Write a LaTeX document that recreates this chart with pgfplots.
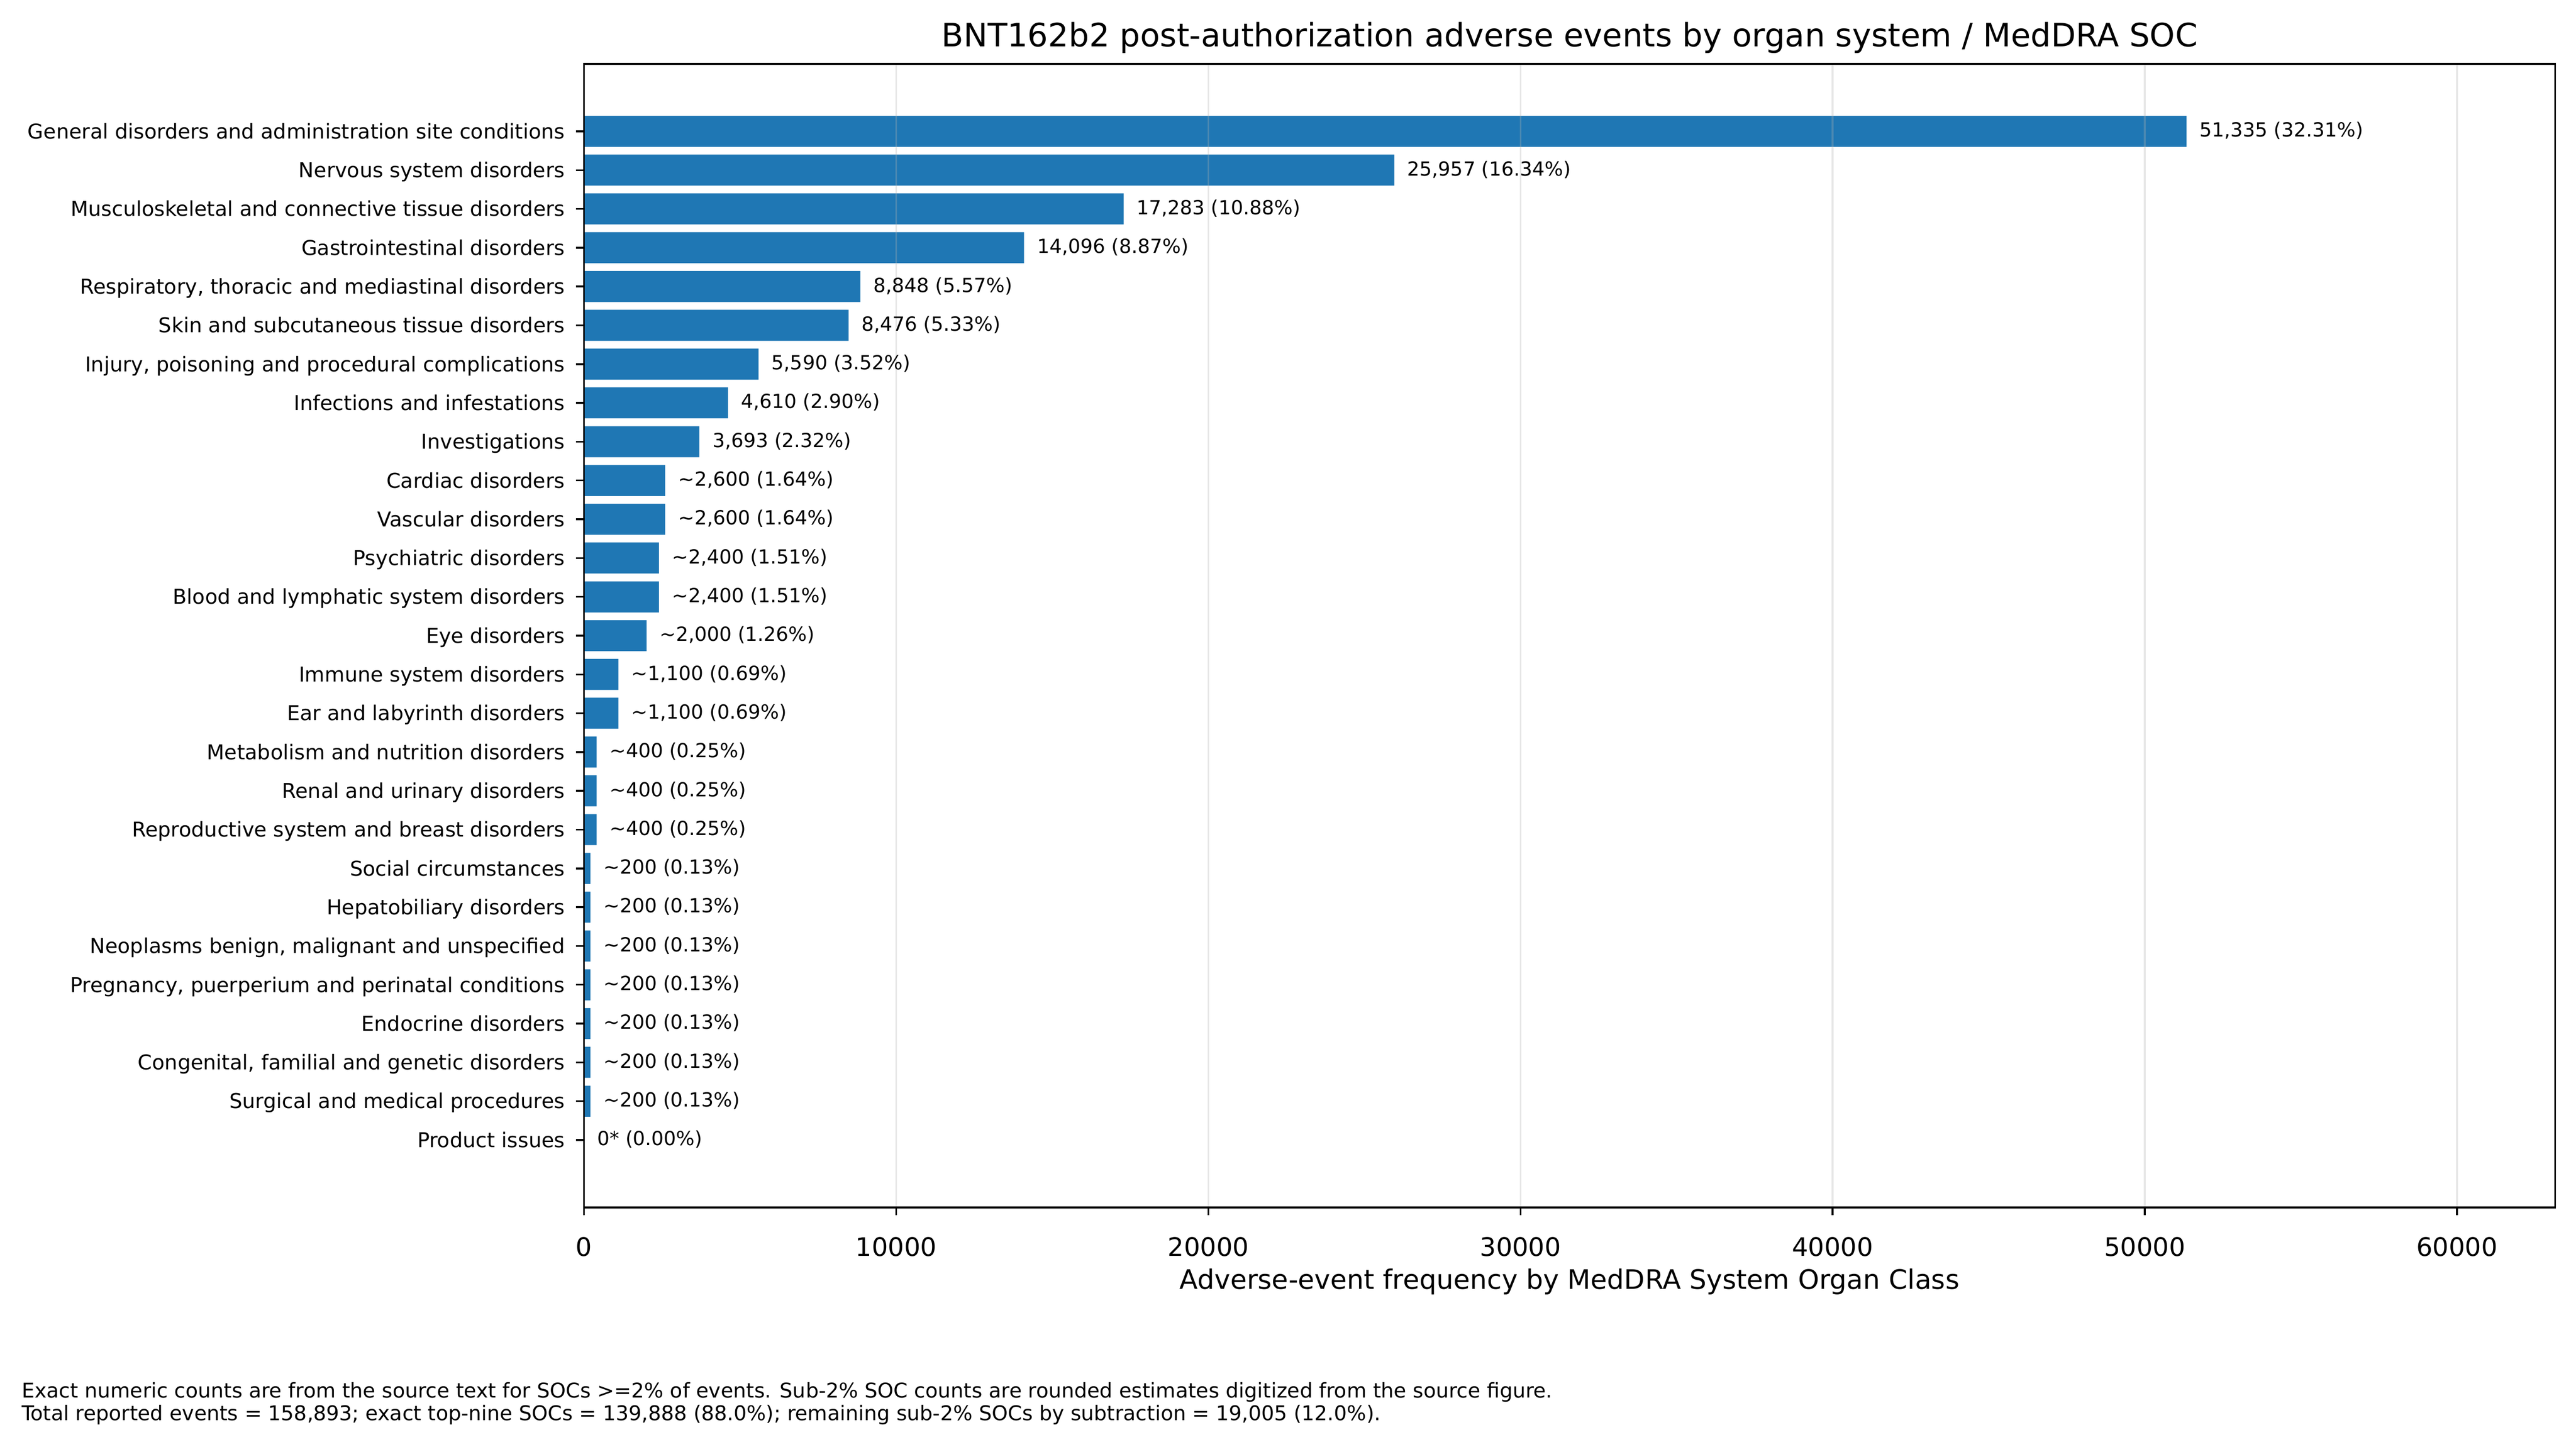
\documentclass[border=0pt]{standalone}
\usepackage{fontspec}
\setmainfont{DejaVu Sans}
\usepackage{pgfplots}
\pgfplotsset{compat=1.18}
\definecolor{barblue}{RGB}{31,119,180}
\definecolor{gridgray}{RGB}{176,176,176}
\newcommand{\fs}[1]{\fontsize{#1}{1.2\dimexpr#1pt\relax}\selectfont}
\begin{document}
\begin{tikzpicture}
\useasboundingbox (0,0) rectangle (1152pt,647.1pt);
\begin{axis}[
  name=ax,
  at={(261.2pt,107.05pt)}, anchor=south west,
  scale only axis, width=881.4pt, height=511.5pt,
  xbar, bar width=0.8, bar shift=0pt,
  xmin=0, xmax=63142,
  ymin=-1.74, ymax=27.74, y dir=reverse,
  ytick={0,...,26},
  yticklabels={
    General disorders and administration site conditions,
    Nervous system disorders,
    Musculoskeletal and connective tissue disorders,
    Gastrointestinal disorders,
    {Respiratory, thoracic and mediastinal disorders},
    Skin and subcutaneous tissue disorders,
    {Injury, poisoning and procedural complications},
    Infections and infestations,
    Investigations,
    Cardiac disorders,
    Vascular disorders,
    Psychiatric disorders,
    Blood and lymphatic system disorders,
    Eye disorders,
    Immune system disorders,
    Ear and labyrinth disorders,
    Metabolism and nutrition disorders,
    Renal and urinary disorders,
    Reproductive system and breast disorders,
    Social circumstances,
    Hepatobiliary disorders,
    {Neoplasms benign, malignant and unspecified},
    {Pregnancy, puerperium and perinatal conditions},
    Endocrine disorders,
    {Congenital, familial and genetic disorders},
    Surgical and medical procedures,
    Product issues},
  xtick={0,10000,...,60000},
  scaled x ticks=false,
  xticklabel style={/pgf/number format/1000 sep={}, /pgf/number format/assume math mode=true,
     font=\fs{11.4}, anchor=base, inner sep=0pt, yshift=-18.3pt},
  yticklabel style={font=\fs{9.15}, anchor=base east, inner sep=0pt, xshift=-4.9pt, yshift=-3.3pt},
  tick align=outside, major tick length=3.5pt,
  tick style={black, line width=0.8pt},
  xtick pos=bottom, ytick pos=left,
  axis line style={line width=0.8pt},
  xmajorgrids, ymajorgrids=false,
  major grid style={draw=gridgray, opacity=0.3, line width=0.8pt},
  axis on top,
  point meta=explicit symbolic,
  nodes near coords={\pgfplotspointmeta},
  every node near coord/.style={font=\fs{8.7}, anchor=base west, inner sep=0pt, xshift=5.7pt, yshift=-2.5pt, black},
  clip=false,
]
\addplot[fill=barblue, draw=none] coordinates {
  (51335,0) [51,335 (32.31\%)]
  (25957,1) [25,957 (16.34\%)]
  (17283,2) [17,283 (10.88\%)]
  (14096,3) [14,096 (8.87\%)]
  (8848,4) [8,848 (5.57\%)]
  (8476,5) [8,476 (5.33\%)]
  (5590,6) [5,590 (3.52\%)]
  (4610,7) [4,610 (2.90\%)]
  (3693,8) [3,693 (2.32\%)]
  (2600,9) [\textasciitilde2,600 (1.64\%)]
  (2600,10) [\textasciitilde2,600 (1.64\%)]
  (2400,11) [\textasciitilde2,400 (1.51\%)]
  (2400,12) [\textasciitilde2,400 (1.51\%)]
  (2000,13) [\textasciitilde2,000 (1.26\%)]
  (1100,14) [\textasciitilde1,100 (0.69\%)]
  (1100,15) [\textasciitilde1,100 (0.69\%)]
  (400,16) [\textasciitilde400 (0.25\%)]
  (400,17) [\textasciitilde400 (0.25\%)]
  (400,18) [\textasciitilde400 (0.25\%)]
  (200,19) [\textasciitilde200 (0.13\%)]
  (200,20) [\textasciitilde200 (0.13\%)]
  (200,21) [\textasciitilde200 (0.13\%)]
  (200,22) [\textasciitilde200 (0.13\%)]
  (200,23) [\textasciitilde200 (0.13\%)]
  (200,24) [\textasciitilde200 (0.13\%)]
  (200,25) [\textasciitilde200 (0.13\%)]
  (0,26) [0* (0.00\%)]
};
\end{axis}
\node[anchor=base, inner sep=0pt, font=\fs{14.4}] at ([yshift=7.7pt]ax.north) {BNT162b2 post-authorization adverse events by organ system / MedDRA SOC};
\node[anchor=base, inner sep=0pt, font=\fs{12}] at ([yshift=-36.6pt]ax.south) {Adverse-event frequency by MedDRA System Organ Class};
\node[anchor=base west, inner sep=0pt, font=\fs{9.1}] at (9.5pt,22pt) {Exact numeric counts are from the source text for SOCs >=2\% of events. Sub-2\% SOC counts are rounded estimates digitized from the source figure.};
\node[anchor=base west, inner sep=0pt, font=\fs{9.1}] at (9.5pt,11.7pt) {Total reported events = 158,893; exact top-nine SOCs = 139,888 (88.0\%); remaining sub-2\% SOCs by subtraction = 19,005 (12.0\%).};
\end{tikzpicture}
\end{document}
